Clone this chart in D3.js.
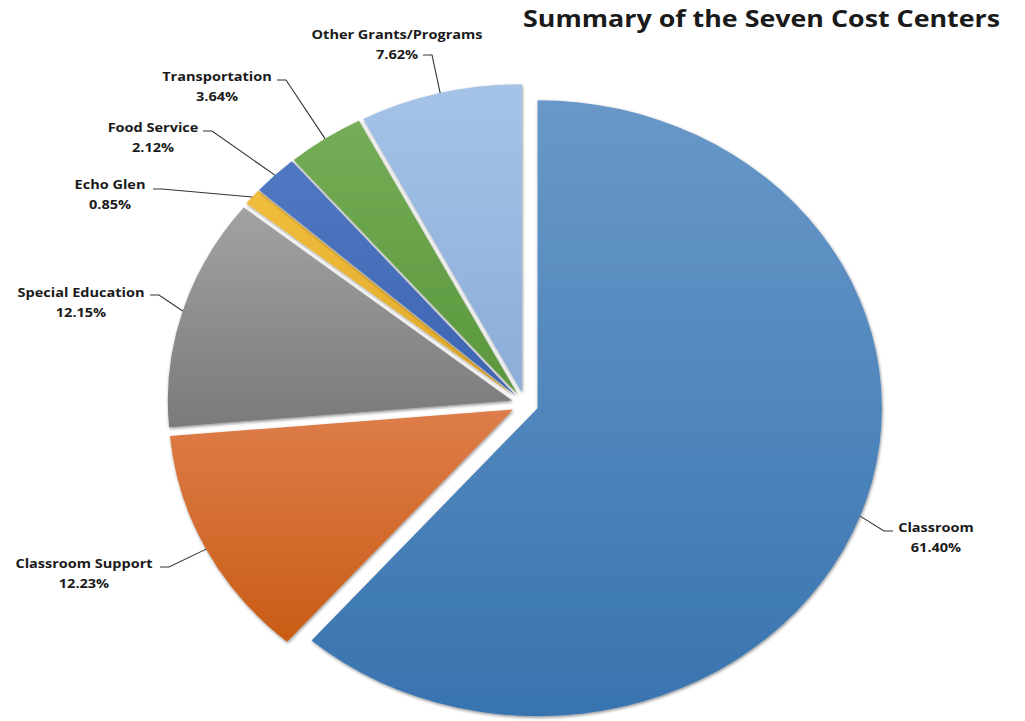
<!DOCTYPE html>
<html>
<head>
<meta charset="utf-8">
<script src="https://cdn.jsdelivr.net/npm/d3@7"></script>
<style>
  html, body { margin: 0; padding: 0; background: #ffffff; }
  svg { display: block; }
  text { font-family: "Open Sans", Lato, sans-serif; font-weight: 700; fill: #1a1a1a; }
</style>
</head>
<body>
<svg id="chart" width="1025" height="721"></svg>
<script>
// Cost centers, in pie order (clockwise from 12 o'clock)
const categories = [
  "Classroom",
  "Classroom Support",
  "Special Education",
  "Echo Glen",
  "Food Service",
  "Transportation",
  "Other Grants/Programs"
];
const shares = [61.40, 12.23, 12.15, 0.85, 2.12, 3.64, 7.62];
const percentLabels = ["61.40%", "12.23%", "12.15%", "0.85%", "2.12%", "3.64%", "7.62%"];

// Top / bottom gradient colours for each slice
const topColors    = ["#6898c8", "#de7d4a", "#a2a2a2", "#f0bd3c", "#5078c2", "#74ad56", "#a5c3e7"];
const bottomColors = ["#3874b0", "#c95c16", "#7a7a7a", "#e0a82a", "#3d64b2", "#5a973c", "#8badd8"];

// Label placement: centre of the name line, leader start point and elbow direction
const labelLayout = [
  { x: 936, y: 527, ax: 893, ay: 531, dir: -1 },
  { x: 84,  y: 563, ax: 160, ay: 567, dir: 1 },
  { x: 81,  y: 292, ax: 150, ay: 295, dir: 1 },
  { x: 110, y: 184, ax: 153, ay: 189, dir: 1 },
  { x: 153, y: 127, ax: 203, ay: 131, dir: 1 },
  { x: 217, y: 76,  ax: 277, ay: 80,  dir: 1 },
  { x: 397, y: 34,  ax: 423, ay: 55,  dir: 1 }
];

const SX = 1.118;          // horizontal stretch of the whole drawing
const cx = 525, cy = 404;  // pie centre
const R = 308;             // radius
const EXPLODE = 12;        // distance each slice is pulled out

const svg = d3.select("#chart");
const defs = svg.append("defs");

const shadow = defs.append("filter").attr("id", "sliceShadow")
  .attr("x", "-10%").attr("y", "-10%").attr("width", "120%").attr("height", "120%");
shadow.append("feDropShadow")
  .attr("dx", 0.6).attr("dy", 1.4).attr("stdDeviation", 1.6)
  .attr("flood-color", "#000").attr("flood-opacity", 0.45);

categories.forEach((c, i) => {
  const g = defs.append("linearGradient").attr("id", "grad" + i)
    .attr("x1", 0).attr("y1", 0).attr("x2", 0).attr("y2", 1);
  g.append("stop").attr("offset", "0%").attr("stop-color", topColors[i]);
  g.append("stop").attr("offset", "100%").attr("stop-color", bottomColors[i]);
});

const data = categories.map((c, i) => ({ name: c, value: shares[i], pct: percentLabels[i], i }));

const pie = d3.pie().value(d => d.value).sort(null);
const arcs = pie(data);
const arc = d3.arc().innerRadius(0).outerRadius(R);

const pieG = svg.append("g")
  .attr("transform", `translate(${cx},${cy}) scale(${SX},1)`);

pieG.selectAll("path.slice")
  .data(arcs)
  .join("path")
  .attr("class", "slice")
  .attr("d", arc)
  .attr("fill", d => `url(#grad${d.data.i})`)
  .attr("filter", "url(#sliceShadow)")
  .attr("transform", d => {
    const m = (d.startAngle + d.endAngle) / 2;
    return `translate(${EXPLODE * Math.sin(m)},${-EXPLODE * Math.cos(m)})`;
  });

// Screen position of a point on the outer arc of a slice at its mid angle
function arcAnchor(d) {
  const m = (d.startAngle + d.endAngle) / 2;
  const r = R + EXPLODE;
  return [cx + SX * r * Math.sin(m), cy - r * Math.cos(m)];
}

const labelG = svg.append("g");

arcs.forEach((d, i) => {
  const L = labelLayout[i];
  const [px, py] = arcAnchor(d);
  const ex = L.ax + L.dir * 9;
  labelG.append("path")
    .attr("d", `M${L.ax},${L.ay}H${ex}L${px},${py}`)
    .attr("fill", "none")
    .attr("stroke", "#333")
    .attr("stroke-width", 1.1);

  const t = labelG.append("g")
    .attr("transform", `translate(${L.x},${L.y}) scale(${SX},1)`);
  t.append("text")
    .attr("text-anchor", "middle")
    .attr("dy", "0.35em")
    .attr("font-size", 13)
    .text(d.data.name);
  t.append("text")
    .attr("text-anchor", "middle")
    .attr("y", 20)
    .attr("dy", "0.35em")
    .attr("font-size", 13)
    .text(d.data.pct);
});

// Title
svg.append("g")
  .attr("transform", `translate(523,27) scale(${SX},1)`)
  .append("text")
  .attr("font-size", 24)
  .attr("fill", "#000")
  .text("Summary of the Seven Cost Centers");
</script>
</body>
</html>
